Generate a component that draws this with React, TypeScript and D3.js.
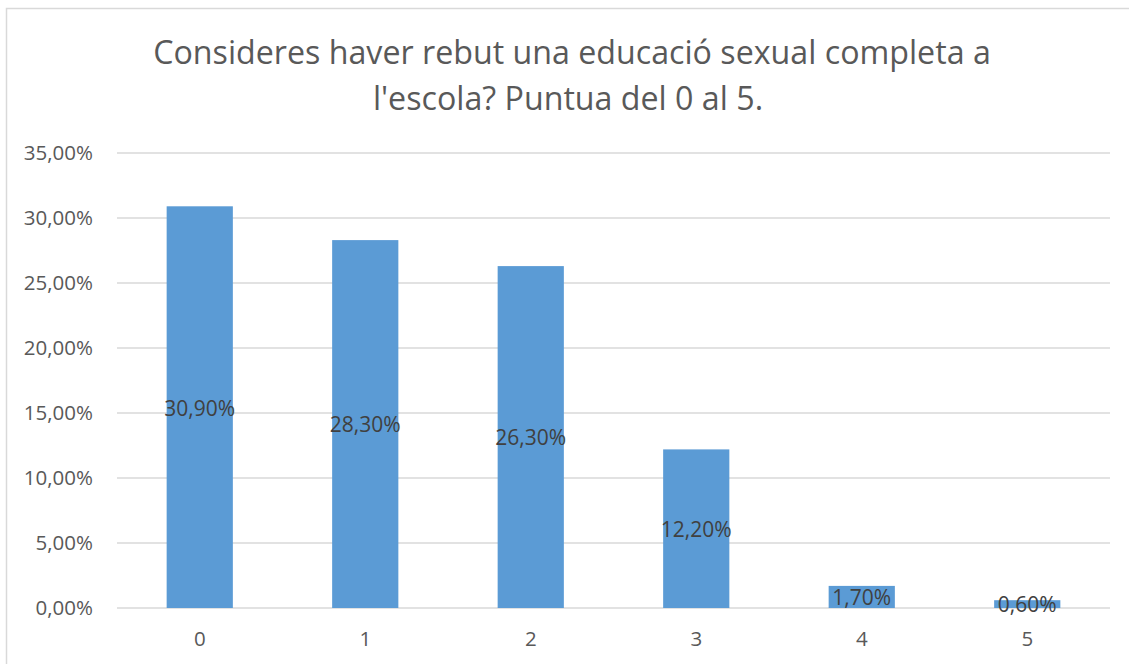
import React from 'react';
import * as d3 from 'd3';

const categories = ['0', '1', '2', '3', '4', '5'];
const values = [30.9, 28.3, 26.3, 12.2, 1.7, 0.6];
const yTicks = [0, 5, 10, 15, 20, 25, 30, 35];
const titleLines = ["Consideres haver rebut una educació sexual completa a", "l'escola? Puntua del 0 al 5."];

const W = 1129;
const H = 664;
const FONT = "'Open Sans', 'Noto Sans', sans-serif";
const fmt = (v: number) => v.toFixed(2).replace('.', ',') + '%';

const App: React.FC = () => {
    const x = d3.scaleBand<string>()
        .domain(categories)
        .range([117, 1110])
        .paddingInner(0.6)
        .paddingOuter(0.3);

    const y = d3.scaleLinear()
        .domain([0, 35])
        .range([608, 153]);

    return (
        <svg width={W} height={H} style={{ position: 'absolute', left: 0, top: 0, background: '#fff' }} fontFamily={FONT}>
            <rect x={6.5} y={8.5} width={W + 20} height={H + 20} fill="#fff" stroke="#d9d9d9" strokeWidth={1.5} />

            {/* title */}
            <text textAnchor="middle" fill="#595959" fontSize={32.2}>
                <tspan x={572} y={64}>{titleLines[0]}</tspan>
                <tspan x={568} y={110}>{titleLines[1]}</tspan>
            </text>

            {/* gridlines + y labels */}
            {yTicks.map(t => (
                <g key={t}>
                    <line x1={117} x2={1110} y1={y(t)} y2={y(t)} stroke="#d9d9d9" strokeWidth={1.3} />
                    <text x={93} y={y(t)} dy="0.35em" textAnchor="end" fill="#595959" fontSize={20.5}>{fmt(t)}</text>
                </g>
            ))}

            {/* bars */}
            {categories.map((c, i) => (
                <rect key={c} x={x(c)} y={y(values[i])} width={x.bandwidth()} height={y(0) - y(values[i])} fill="#5b9bd5" />
            ))}

            {/* x labels */}
            {categories.map(c => (
                <text key={c} x={(x(c) as number) + x.bandwidth() / 2} y={639} dy="0.35em" textAnchor="middle" fill="#595959" fontSize={20.5}>{c}</text>
            ))}

            {/* data labels */}
            {categories.map((c, i) => (
                <text key={c} x={(x(c) as number) + x.bandwidth() / 2} y={y(values[i] / 2) + 1} dy="0.35em" textAnchor="middle" fill="#404040" fontSize={21}>{fmt(values[i])}</text>
            ))}
        </svg>
    );
};

export default App;
